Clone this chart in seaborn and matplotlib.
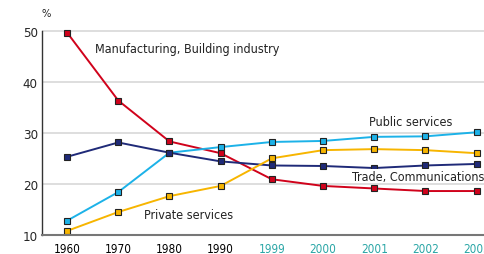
import pandas as pd
import numpy as np
import seaborn as sns
import matplotlib.pyplot as plt

years = ["1960", "1970", "1980", "1990", "1999", "2000", "2001", "2002", "2003"]
manufacturing = [49.6, 36.3, 28.3, 26.0, 20.9, 19.6, 19.1, 18.6, 18.6]
public_services = [12.8, 18.4, 26.1, 27.2, 28.2, 28.4, 29.2, 29.3, 30.1]
trade = [25.3, 28.1, 26.1, 24.4, 23.6, 23.5, 23.1, 23.6, 23.9]
private_services = [10.8, 14.5, 17.6, 19.6, 25.0, 26.6, 26.8, 26.6, 26.0]

series = {
    "Manufacturing, Building industry": manufacturing,
    "Public services": public_services,
    "Trade, Communications": trade,
    "Private services": private_services,
}
colors = ["#d0021b", "#1cb2e8", "#1f2a78", "#f7b500"]

rows = []
for name, vals in series.items():
    for i, v in enumerate(vals):
        rows.append({"pos": i, "year": years[i], "sector": name, "share": v})
df = pd.DataFrame(rows)

sns.set_style("white")
plt.rcParams["font.family"] = ["DejaVu Sans"]
plt.rcParams["font.stretch"] = "condensed"

fig = plt.figure(figsize=(4.85, 2.55), dpi=100)
ax = fig.add_axes([42 / 485, 1 - 236 / 255, 450 / 485, 206 / 255])

sns.lineplot(data=df, x="pos", y="share", hue="sector", palette=colors,
             marker="s", markersize=5, markeredgecolor="#222222",
             markeredgewidth=0.8, linewidth=1.4, legend=False, ax=ax, sort=False)

ax.set_xlim(-0.49, 8.3)
ax.set_ylim(10, 50.3)
ax.set_yticks([10, 20, 30, 40, 50])
ax.set_xticks(range(len(years)))
ax.set_xticklabels(years)
for i, lab in enumerate(ax.get_xticklabels()):
    lab.set_color("black" if i < 4 else "#2aa6a6")
ax.set_xlabel("")
ax.set_ylabel("")
ax.grid(axis="y", color="#d8d8d8", linewidth=1.2)
ax.set_axisbelow(True)
for s in ["top", "right"]:
    ax.spines[s].set_visible(False)
ax.spines["left"].set_color("#333333")
ax.spines["left"].set_linewidth(1.0)
ax.spines["left"].set_bounds(10, 50)
ax.spines["bottom"].set_color("#777777")
ax.spines["bottom"].set_linewidth(1.5)
ax.tick_params(axis="y", direction="in", length=10, width=1, color="#333333",
               labelsize=9.5, pad=3)
ax.tick_params(axis="x", direction="in", length=5, width=1, color="#555555",
               labelsize=8.5, pad=5)

txt = "#222222"
ax.text(-0.5, 53.5, "%", fontsize=8, ha="left", va="center", clip_on=False)
ax.text(0.55, 46.5, "Manufacturing, Building industry", fontsize=9, va="center", color=txt)
ax.text(5.9, 32.2, "Public services", fontsize=9, va="center", color=txt)
ax.text(5.56, 21.5, "Trade, Communications", fontsize=9, va="center", color=txt,
        bbox=dict(facecolor="white", edgecolor="none", pad=0.5))
ax.text(1.5, 14.0, "Private services", fontsize=9, va="center", color=txt)

fig.savefig("out.png", dpi=100)
